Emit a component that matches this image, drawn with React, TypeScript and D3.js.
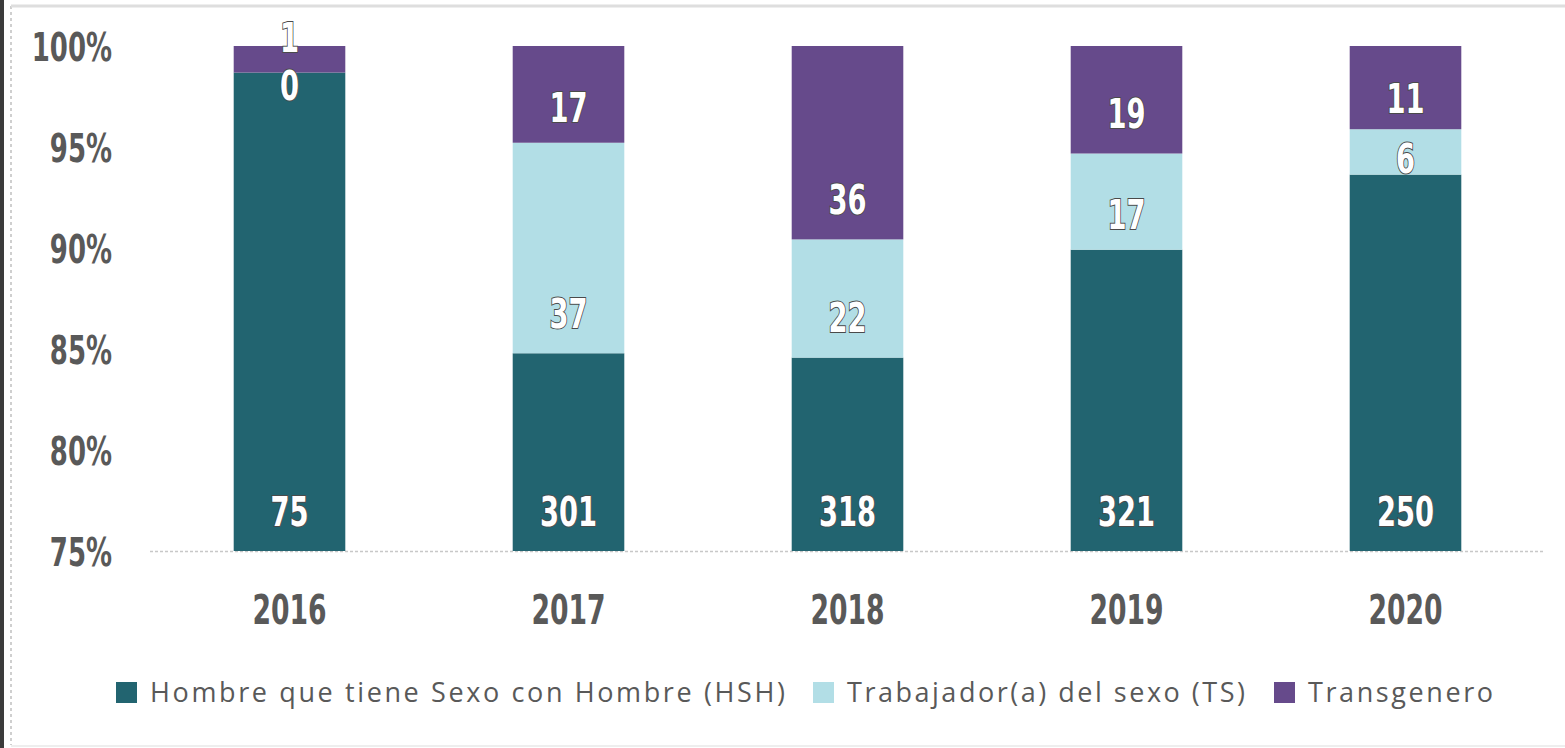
import * as React from "react";
import * as d3 from "d3";

const years = ["2016", "2017", "2018", "2019", "2020"];
const hsh = [75, 301, 318, 321, 250];
const ts = [0, 37, 22, 17, 6];
const trans = [1, 17, 36, 19, 11];
const seriesNames = ["Hombre que tiene Sexo con Hombre (HSH)", "Trabajador(a) del sexo (TS)", "Transgenero"];
const yTicks = [0.75, 0.8, 0.85, 0.9, 0.95, 1];

const W = 1565;
const H = 748;
const margin = { left: 150, right: 20, top: 46, bottom: 197 };
const colors = ["#226470", "#b2dee6", "#664a8b"];
const textGray = "#595959";
const condensed = "'DejaVu Sans Condensed', 'DejaVu Sans', sans-serif";
const squeeze = 0.74;

// squeeze a condensed label horizontally so it looks like the narrow display face
function narrow(sel: any) {
  sel.each(function (this: SVGTextElement) {
    const w = this.getComputedTextLength();
    if (w > 0) {
      this.setAttribute("textLength", String(w * squeeze));
      this.setAttribute("lengthAdjust", "spacingAndGlyphs");
    }
  });
}

export default function App() {
  const ref = React.useRef<SVGSVGElement>(null);

  React.useEffect(() => {
    const svg = d3.select(ref.current);
    svg.selectAll("*").remove();

    const rows = years.map((y, i) => ({ year: y, hsh: hsh[i], ts: ts[i], trans: trans[i] }));
    const keys = ["hsh", "ts", "trans"];
    const stacked = d3.stack<any>().keys(keys).offset(d3.stackOffsetExpand)(rows);

    const x = d3.scaleBand().domain(years).range([margin.left, W - margin.right]).paddingInner(0.6).paddingOuter(0.3);
    const y = d3.scaleLinear().domain([0.75, 1]).range([H - margin.bottom, margin.top]).clamp(true);

    // frame
    svg.append("rect").attr("x", 0).attr("y", 0).attr("width", W).attr("height", H).attr("fill", "#fff");
    svg.append("rect").attr("x", 0).attr("y", 0).attr("width", 4).attr("height", H).attr("fill", "#3b3b3b");
    svg.append("line").attr("x1", 11).attr("x2", 11).attr("y1", 6).attr("y2", H - 3)
      .attr("stroke", "#cfcfcf").attr("stroke-width", 2).attr("stroke-dasharray", "3,3");
    svg.append("line").attr("x1", 11).attr("x2", W).attr("y1", 6).attr("y2", 6)
      .attr("stroke", "#dedede").attr("stroke-width", 3);
    svg.append("line").attr("x1", 11).attr("x2", W).attr("y1", H - 2).attr("y2", H - 2)
      .attr("stroke", "#eeeeee").attr("stroke-width", 2);

    // baseline grid
    svg.append("line").attr("x1", margin.left).attr("x2", W - margin.right - 2)
      .attr("y1", y(0.75) + 0.5).attr("y2", y(0.75) + 0.5)
      .attr("stroke", "#c8c8c8").attr("stroke-width", 1.5).attr("stroke-dasharray", "3,2");

    // bars
    const layers = svg.append("g").selectAll("g").data(stacked).enter().append("g")
      .attr("fill", (_d, i) => colors[i]);
    layers.selectAll("rect").data((d: any) => d).enter().append("rect")
      .attr("x", (d: any) => x(d.data.year)!)
      .attr("width", x.bandwidth())
      .attr("y", (d: any) => y(d[1]))
      .attr("height", (d: any) => y(d[0]) - y(d[1]));

    // labels: inside base, pushed apart when they collide
    const labelGap = 48;
    const labels: any[] = [];
    years.forEach((yr, i) => {
      const col = stacked.map((s, k) => {
        const d = s[i];
        const bottom = y(d[0]);
        const h = bottom - y(d[1]);
        return { year: yr, value: (rows[i] as any)[keys[k]], cy: bottom - Math.min(40, h * 0.37) };
      });
      for (let k = 1; k < col.length; k++) {
        const prev = col[k - 1];
        const cur = col[k];
        if (prev.cy - cur.cy < labelGap) {
          const mid = (prev.cy + cur.cy) / 2 - 6;
          prev.cy = mid + labelGap / 2;
          cur.cy = mid - labelGap / 2;
        }
      }
      labels.push(...col);
    });

    svg.append("g").selectAll("text").data(labels).enter().append("text")
      .attr("x", (d: any) => x(d.year)! + x.bandwidth() / 2)
      .attr("y", (d: any) => d.cy)
      .attr("dy", "0.36em")
      .attr("text-anchor", "middle")
      .attr("font-family", condensed)
      .attr("font-weight", "bold")
      .attr("font-size", 41)
      .attr("fill", "#fff")
      .attr("stroke", "#4a4a4a")
      .attr("stroke-width", 2)
      .attr("paint-order", "stroke")
      .text((d: any) => d.value)
      .call(narrow);

    // axes
    const yAxis = svg.append("g").attr("transform", `translate(${margin.left},0)`)
      .call(d3.axisLeft(y).tickValues(yTicks).tickFormat(d3.format(".0%")).tickSize(0).tickPadding(38));
    yAxis.select(".domain").remove();
    yAxis.selectAll("text")
      .attr("font-family", condensed).attr("font-weight", "bold").attr("font-size", 39)
      .attr("fill", textGray).attr("dy", "0.36em")
      .call(narrow);

    const xAxis = svg.append("g").attr("transform", `translate(0,${y(0.75)})`)
      .call(d3.axisBottom(x).tickSize(0).tickPadding(59));
    xAxis.select(".domain").remove();
    xAxis.selectAll("text")
      .attr("font-family", condensed).attr("font-weight", "bold").attr("font-size", 40)
      .attr("fill", textGray).attr("dy", "0.36em")
      .call(narrow);

    // legend
    const legendX = [116, 813, 1274];
    const legendW = [635, 398, 185];
    const legend = svg.append("g").selectAll("g").data(seriesNames).enter().append("g")
      .attr("transform", (_d, i) => `translate(${legendX[i]},692.5)`);
    legend.append("rect").attr("x", 0).attr("y", -10.5).attr("width", 21).attr("height", 21)
      .attr("fill", (_d, i) => colors[i]);
    legend.append("text").attr("x", 34).attr("y", 0).attr("dy", "0.35em")
      .attr("font-family", "'Open Sans', 'DejaVu Sans', sans-serif").attr("font-size", 27)
      .attr("fill", textGray)
      .attr("textLength", (_d, i) => legendW[i])
      .attr("lengthAdjust", "spacing")
      .text((d) => d);
  }, []);

  return (
    <svg ref={ref} width={W} height={H} style={{ position: "absolute", left: 0, top: 0 }} />
  );
}
